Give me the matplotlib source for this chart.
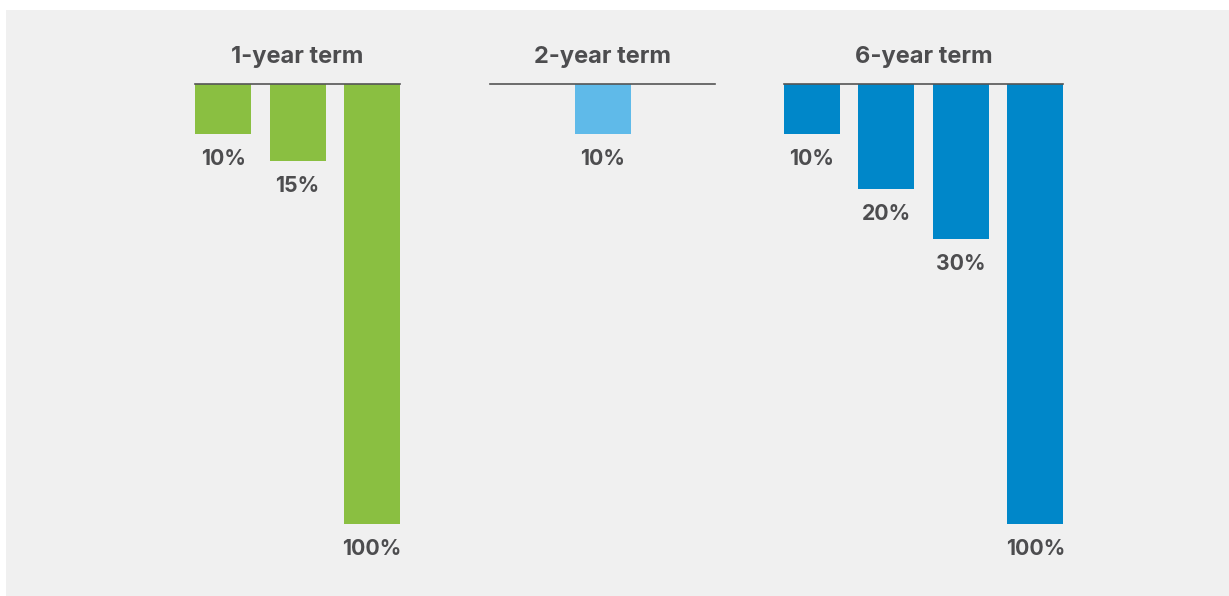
import matplotlib.pyplot as plt
from matplotlib.patches import Rectangle

# group titles and the labels printed under each bar
groups = ['1-year term', '2-year term', '6-year term']
labels = [['10%', '15%', '100%'], ['10%'], ['10%', '20%', '30%', '100%']]
# bar lengths as drawn (in "percent" units, 5 px each); the 100% bars are shortened in the original
lengths = [[10, 15.4, 88], [10], [10, 21, 31, 88]]
colors = ['#8abf41', '#5fbae9', '#0087c9']

W, H = 1229, 596
fig = plt.figure(figsize=(W / 100, H / 100), dpi=100)
fig.patch.set_facecolor('white')
ax = fig.add_axes([0, 0, 1, 1])
ax.set_xlim(0, W)
ax.set_ylim(-(H - 84) / 5, 84 / 5)  # y=0 is the baseline, 5 px per unit
ax.axis('off')

# gray panel
ax.add_patch(Rectangle((6, -(H - 84) / 5), W - 6, (H - 10) / 5,
                       facecolor='#f0f0f0', edgecolor='none', zorder=0))

text_color = '#4d4d4f'
font = ['Inter', 'DejaVu Sans']
bar_w = 56
pitch = 74.5
# left end and right end of each group's baseline
spans = [(195, 400), (490, 715), (784, 1063)]

for g, name in enumerate(groups):
    x0, x1 = spans[g]
    n = len(lengths[g])
    width = (n - 1) * pitch + bar_w
    start = (x0 + x1) / 2 - width / 2
    xs = [start + bar_w / 2 + i * pitch for i in range(n)]
    ax.bar(xs, [-v for v in lengths[g]], width=bar_w, color=colors[g], zorder=2)
    ax.plot([x0, x1], [0, 0], color='#555555', lw=1.2, zorder=3)
    ax.text((x0 + x1) / 2, 27 / 5, name, ha='center', va='center',
            fontsize=17, fontweight='bold', color=text_color, family=font)
    for x, v, lab in zip(xs, lengths[g], labels[g]):
        ax.text(x, -v - 25 / 5, lab, ha='center', va='center',
                fontsize=15.3, fontweight='bold', color=text_color, family=font)

fig.savefig('out.png', dpi=100, facecolor='white')
